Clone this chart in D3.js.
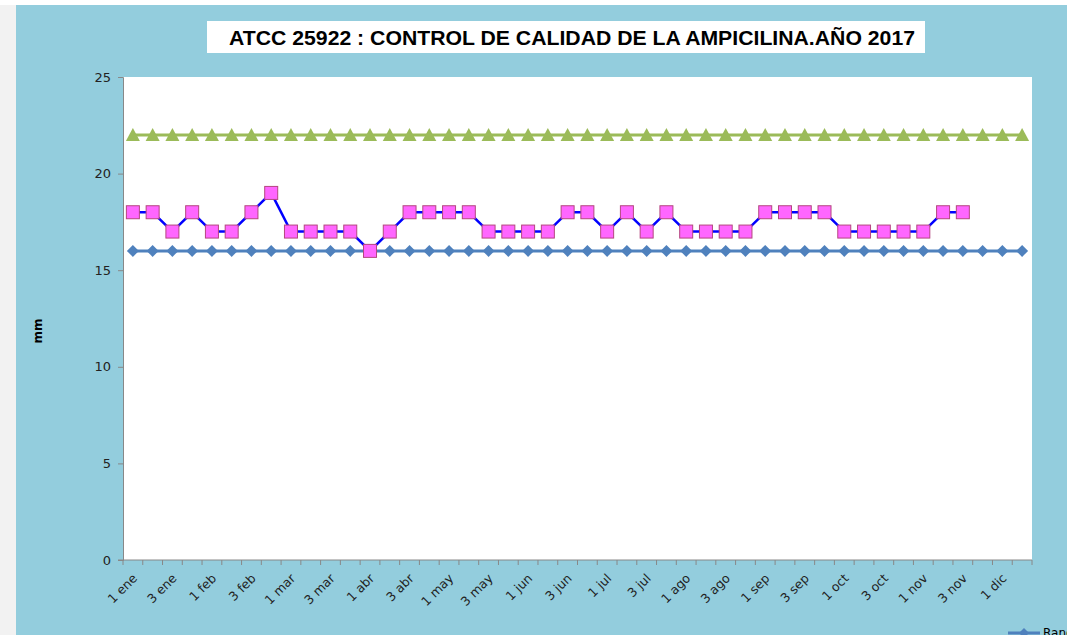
<!DOCTYPE html>
<html lang="es">
  <head>
    <meta charset="utf-8"/>
    <script src="https://d3js.org/d3.v7.min.js"></script>
    <title>ATCC 25922 ampicilina 2017</title>
    <style>
      body { margin: 0; background: #f2f2f2; overflow: hidden; }
      text { font-family: "DejaVu Sans", Verdana, sans-serif; }
    </style>
  </head>
  <body>
    <svg id="svg_main"></svg>
    <script>
      const width = 1067;
      const height = 635;

      // 4 semanas por mes, se muestran 46 puntos (1 ene .. 2 dic)
      const months = ["ene", "feb", "mar", "abr", "may", "jun", "jul", "ago", "sep", "oct", "nov", "dic"];
      const categories = [];
      months.forEach(function(m) {
        for (let w = 1; w <= 4; w++) categories.push(w + " " + m);
      });
      const shownCategories = categories.slice(0, 46);

      const rangoMin = shownCategories.map(function() { return 16; });
      const rangoMax = shownCategories.map(function() { return 22; });
      const medidas = [18, 18, 17, 18, 17, 17, 18, 19, 17, 17, 17, 17, 16, 17, 18, 18, 18, 18,
                       17, 17, 17, 17, 18, 18, 17, 18, 17, 18, 17, 17, 17, 17, 18, 18, 18, 18,
                       17, 17, 17, 17, 17, 18, 18];
      const yTicks = [0, 5, 10, 15, 20, 25];

      const plot = {left: 123, right: 1032, top: 77, bottom: 560};

      let svg = d3.select("#svg_main")
          .attr("width", width)
          .attr("height", height);

      // fondo
      svg.append("rect").attr("x", 0).attr("y", 0).attr("width", width).attr("height", height).attr("fill", "#f2f2f2");
      svg.append("rect").attr("x", 0).attr("y", 0).attr("width", width).attr("height", 5).attr("fill", "#ffffff");
      svg.append("rect").attr("x", 16).attr("y", 5).attr("width", width - 16).attr("height", height - 5).attr("fill", "#93cddd");
      svg.append("rect")
          .attr("x", plot.left).attr("y", plot.top)
          .attr("width", plot.right - plot.left).attr("height", plot.bottom - plot.top)
          .attr("fill", "#ffffff");

      // titulo
      svg.append("rect").attr("x", 207).attr("y", 21).attr("width", 718).attr("height", 32).attr("fill", "#ffffff");
      svg.append("text")
          .attr("x", 572).attr("y", 45)
          .attr("text-anchor", "middle")
          .attr("textLength", 686)
          .attr("lengthAdjust", "spacingAndGlyphs")
          .style("font-family", "'Liberation Sans', Arial, sans-serif")
          .style("font-weight", "bold")
          .style("font-size", "21px")
          .attr("fill", "#000")
          .text("ATCC 25922 : CONTROL DE CALIDAD DE LA  AMPICILINA.AÑO 2017");

      let xScale = d3.scaleBand()
          .domain(shownCategories)
          .range([plot.left, plot.right]);

      let yScale = d3.scaleLinear()
          .domain([0, 25])
          .range([plot.bottom, plot.top]);

      const cx = function(i) { return xScale(shownCategories[i]) + xScale.bandwidth() / 2; };

      // eje Y
      let yAxis_g = svg.append("g")
          .attr("transform", "translate(" + plot.left + ",0)")
          .call(d3.axisLeft(yScale).tickValues(yTicks).tickSize(5).tickPadding(7));
      yAxis_g.select(".domain").attr("stroke", "#888");
      yAxis_g.selectAll(".tick line").attr("stroke", "#888");
      yAxis_g.selectAll(".tick text").attr("fill", "#222").style("font-size", "13px")
          .style("font-family", "'DejaVu Sans', Verdana, sans-serif");

      // eje X: marcas en cada limite de categoria
      let xAxis_g = svg.append("g").attr("transform", "translate(0," + plot.bottom + ")");
      xAxis_g.append("line")
          .attr("x1", plot.left - 5).attr("x2", plot.right)
          .attr("y1", 0).attr("y2", 0)
          .attr("stroke", "#888");
      const bounds = shownCategories.map(function(c) { return xScale(c); }).concat([plot.right]);
      xAxis_g.selectAll(".xt")
          .data(bounds)
          .enter().append("line")
          .attr("x1", function(d) { return d; }).attr("x2", function(d) { return d; })
          .attr("y1", 0).attr("y2", 5)
          .attr("stroke", "#888");
      xAxis_g.selectAll(".xl")
          .data(shownCategories.filter(function(c, i) { return i % 2 === 0; }))
          .enter().append("text")
          .attr("transform", function(d) {
            return "translate(" + (xScale(d) + xScale.bandwidth() * 0.5 + 2) + ",16) rotate(-45)";
          })
          .attr("text-anchor", "end")
          .attr("dy", "0.35em")
          .attr("fill", "#222")
          .style("font-size", "12.5px")
          .text(function(d) { return d; });

      // etiqueta del eje Y
      svg.append("text")
          .attr("transform", "translate(42,331) rotate(-90)")
          .attr("text-anchor", "middle")
          .style("font-weight", "bold")
          .style("font-size", "12px")
          .attr("fill", "#000")
          .text("mm");

      let line = d3.line()
          .x(function(d, i) { return cx(i); })
          .y(function(d) { return yScale(d); });

      // rango minimo (azul, rombos)
      svg.append("path").datum(rangoMin)
          .attr("fill", "none").attr("stroke", "#4f81bd").attr("stroke-width", 3).attr("d", line);
      svg.selectAll(".rombo").data(rangoMin).enter().append("path")
          .attr("d", "M0,-6L6,0L0,6L-6,0Z")
          .attr("transform", function(d, i) { return "translate(" + cx(i) + "," + yScale(d) + ")"; })
          .attr("fill", "#4f81bd");

      // rango maximo (verde, triangulos)
      svg.append("path").datum(rangoMax)
          .attr("fill", "none").attr("stroke", "#9bbb59").attr("stroke-width", 3).attr("d", line);
      svg.selectAll(".tri").data(rangoMax).enter().append("path")
          .attr("d", "M0,-7L7,6L-7,6Z")
          .attr("transform", function(d, i) { return "translate(" + cx(i) + "," + yScale(d) + ")"; })
          .attr("fill", "#9bbb59");

      // medidas (linea azul, cuadrados rosas)
      svg.append("path").datum(medidas)
          .attr("fill", "none").attr("stroke", "#0000ff").attr("stroke-width", 2.5).attr("d", line);
      svg.selectAll(".cuad").data(medidas).enter().append("rect")
          .attr("x", function(d, i) { return cx(i) - 6.5; })
          .attr("y", function(d) { return yScale(d) - 6.5; })
          .attr("width", 13).attr("height", 13)
          .attr("fill", "#ff66ff")
          .attr("stroke", "#b4477f")
          .attr("stroke-width", 1);

      // leyenda (cortada en el borde inferior, como en el original)
      let legend = svg.append("g").attr("transform", "translate(1008,633)");
      legend.append("line").attr("x1", 0).attr("x2", 32).attr("y1", 0).attr("y2", 0)
          .attr("stroke", "#4f81bd").attr("stroke-width", 3);
      legend.append("path").attr("d", "M0,-5L5,0L0,5L-5,0Z")
          .attr("transform", "translate(16,0)").attr("fill", "#4f81bd");
      legend.append("text").attr("x", 35).attr("y", 4)
          .style("font-size", "12px").attr("fill", "#000")
          .text("Rango mínimo");
    </script>
  </body>
</html>
